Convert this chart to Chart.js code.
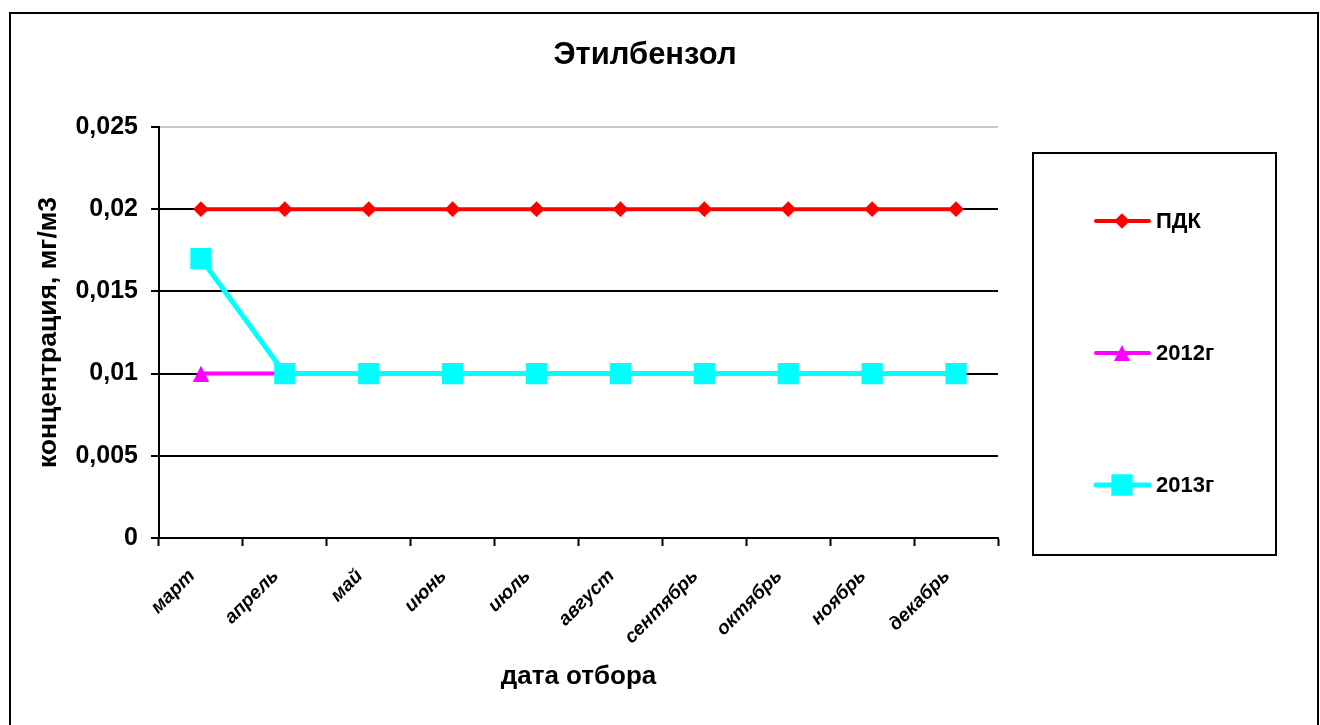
<!DOCTYPE html>
<html>
<head>
<meta charset="utf-8">
<script src="https://cdn.jsdelivr.net/npm/chart.js@4.4.1/dist/chart.umd.min.js"></script>
<style>
  html, body { margin: 0; padding: 0; background: #fff; }
  #wrap { position: relative; width: 1320px; height: 725px; overflow: hidden; }
  #frame { position: absolute; left: 9px; top: 12px; width: 1306px; height: 760px; border: 2px solid #000; }
  #chart { position: absolute; left: 0; top: 0; }
</style>
</head>
<body>
<div id="wrap">
  <div id="frame"></div>
  <canvas id="chart" width="1320" height="725"></canvas>
</div>
<script>
// данные
const months = ['март', 'апрель', 'май', 'июнь', 'июль', 'август', 'сентябрь', 'октябрь', 'ноябрь', 'декабрь'];
const pdk = [0.02, 0.02, 0.02, 0.02, 0.02, 0.02, 0.02, 0.02, 0.02, 0.02];
const y2012 = [0.01, 0.01, 0.01, 0.01, 0.01, 0.01, 0.01, 0.01, 0.01, 0.01];
const y2013 = [0.017, 0.01, 0.01, 0.01, 0.01, 0.01, 0.01, 0.01, 0.01, 0.01];
const yTickLabels = ['0', '0,005', '0,01', '0,015', '0,02', '0,025'];

const FONT = 'Arial, "Liberation Sans", sans-serif';

// треугольный маркер как в Excel (центрирован по точке)
function makeTriangle(w, h, color) {
    const cv = document.createElement('canvas');
    cv.width = w;
    cv.height = h;
    const g = cv.getContext('2d');
    g.fillStyle = color;
    g.beginPath();
    g.moveTo(w / 2, 0);
    g.lineTo(w, h);
    g.lineTo(0, h);
    g.closePath();
    g.fill();
    return cv;
}

// заголовок и легенда
const excelDecor = {
    id: 'excelDecor',
    afterDraw(chart) {
        const c = chart.ctx;
        c.save();
        c.fillStyle = '#000';
        c.font = 'bold 31px ' + FONT;
        c.textAlign = 'center';
        c.textBaseline = 'middle';
        c.fillText('Этилбензол', 645, 55);

        c.lineWidth = 2;
        c.strokeStyle = '#000';
        c.strokeRect(1033, 153, 243, 402);

        const rows = [221, 353, 485];
        chart.data.datasets.forEach((ds, i) => {
            const y = rows[i];
            c.strokeStyle = ds.borderColor;
            c.lineWidth = ds.borderWidth;
            c.lineCap = 'round';
            c.beginPath();
            c.moveTo(1096, y);
            c.lineTo(1149, y);
            c.stroke();
            c.fillStyle = ds.backgroundColor;
            c.strokeStyle = ds.backgroundColor;
            Chart.helpers.drawPoint(c, { pointStyle: ds.pointStyle, radius: ds.pointRadius, borderWidth: 1 }, 1122, y);
            c.fillStyle = '#000';
            c.font = 'bold 22px ' + FONT;
            c.textAlign = 'left';
            c.fillText(ds.label, 1156, y + 1);
        });
        c.restore();
    }
};

new Chart(document.getElementById('chart'), {
    type: 'line',
    data: {
        labels: months,
        datasets: [
            {
                label: 'ПДК',
                data: pdk,
                borderColor: '#ff0000',
                backgroundColor: '#ff0000',
                borderWidth: 4,
                pointStyle: 'rectRot',
                pointRadius: 5,
                order: 2
            },
            {
                label: '2012г',
                data: y2012,
                borderColor: '#ff00ff',
                backgroundColor: '#ff00ff',
                borderWidth: 4,
                pointStyle: makeTriangle(16, 16, '#ff00ff'),
                pointRadius: 8,
                order: 1
            },
            {
                label: '2013г',
                data: y2013,
                borderColor: '#00ffff',
                backgroundColor: '#00ffff',
                borderWidth: 5,
                pointStyle: 'rect',
                pointRadius: 11.5,
                order: 0
            }
        ]
    },
    options: {
        responsive: false,
        animation: false,
        layout: { padding: { left: 0, top: 127, right: 322, bottom: 0 } },
        plugins: {
            legend: { display: false },
            title: { display: false },
            tooltip: { enabled: false }
        },
        elements: { line: { tension: 0 }, point: { borderWidth: 1 } },
        scales: {
            x: {
                offset: true,
                afterFit: (s) => { s.height = 187; },
                border: { color: '#000', width: 2 },
                grid: { offset: true, drawOnChartArea: false, drawTicks: true, tickLength: 8, tickColor: '#000', tickWidth: 2 },
                ticks: {
                    color: '#000',
                    font: { family: FONT, size: 19, style: 'italic', weight: 'bold' },
                    minRotation: 45,
                    maxRotation: 45,
                    padding: 19,
                    labelOffset: -9
                },
                title: {
                    display: true,
                    text: 'дата отбора',
                    color: '#000',
                    font: { family: FONT, size: 26, weight: 'bold' },
                    padding: { top: 0, bottom: 33 }
                }
            },
            y: {
                min: 0,
                max: 0.025,
                afterFit: (s) => { s.width = 159; },
                border: { color: '#000', width: 2 },
                grid: {
                    color: (ctx) => ctx.index === yTickLabels.length - 1 ? '#c8c8c8' : '#000',
                    lineWidth: 2,
                    tickLength: 8,
                    tickColor: '#000',
                    tickWidth: 2
                },
                ticks: {
                    stepSize: 0.005,
                    color: '#000',
                    padding: 13,
                    font: { family: FONT, size: 25, weight: 'bold' },
                    callback: (v, i) => yTickLabels[i]
                },
                title: {
                    display: true,
                    text: 'концентрация, мг/м3',
                    color: '#000',
                    font: { family: FONT, size: 26.5, weight: 'bold' },
                    padding: { top: 33, bottom: 0 }
                }
            }
        }
    },
    plugins: [excelDecor]
});
</script>
</body>
</html>
